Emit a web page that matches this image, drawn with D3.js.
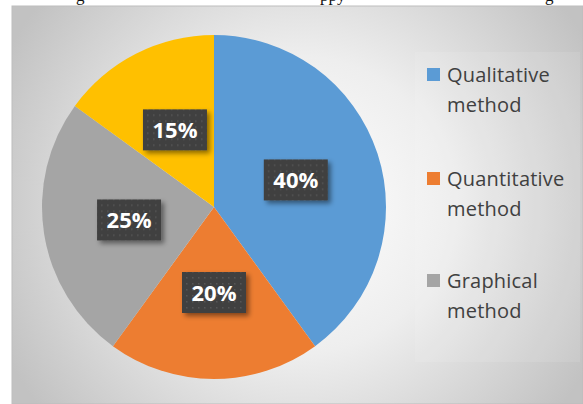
<!DOCTYPE html>
<html><head><meta charset="utf-8">
<script src="https://cdn.jsdelivr.net/npm/d3@7"></script>
<style>html,body{margin:0;padding:0;background:#fff;overflow:hidden}</style>
</head><body>
<svg id="c" width="583" height="404"></svg>
<script>
const categories = ["Qualitative method", "Quantitative method", "Graphical method", "Other"];
const legendLines = [["Qualitative", "method"], ["Quantitative", "method"], ["Graphical", "method"]];
const values = [40, 20, 25, 15];
const labels = ["40%", "20%", "25%", "15%"];
const colors = ["#5B9BD5", "#ED7D31", "#A5A5A5", "#FFC000"];
const headerFragments = [{t: "g", x: 76}, {t: "ppy", x: 320}, {t: "g", x: 545}];

const svg = d3.select("#c");
const defs = svg.append("defs");

const rg = defs.append("radialGradient").attr("id", "bg")
  .attr("gradientUnits", "userSpaceOnUse").attr("cx", 300).attr("cy", 205).attr("r", 330);
rg.append("stop").attr("offset", "0%").attr("stop-color", "#ffffff");
rg.append("stop").attr("offset", "45%").attr("stop-color", "#eeeeee");
rg.append("stop").attr("offset", "100%").attr("stop-color", "#c2c2c2");

const pat = defs.append("pattern").attr("id", "dots").attr("patternUnits", "userSpaceOnUse")
  .attr("width", 6).attr("height", 6);
pat.append("rect").attr("width", 6).attr("height", 6).attr("fill", "#404040");
pat.append("rect").attr("x", 2).attr("y", 2).attr("width", 1.5).attr("height", 1.5).attr("fill", "#575757");

const sh = defs.append("filter").attr("id", "sh").attr("x", "-30%").attr("y", "-30%").attr("width", "170%").attr("height", "170%");
sh.append("feDropShadow").attr("dx", 3).attr("dy", 3).attr("stdDeviation", 2.5).attr("flood-color", "#000").attr("flood-opacity", 0.45);

// descenders of the cut-off text line above the chart
svg.selectAll("text.hdr").data(headerFragments).enter().append("text")
  .attr("class", "hdr").attr("x", d => d.x).attr("y", 1)
  .attr("font-family", "Liberation Serif").attr("font-size", 17).attr("fill", "#111")
  .text(d => d.t);

// chart area
svg.append("rect").attr("x", 12).attr("y", 6).attr("width", 571).attr("height", 398)
  .attr("fill", "url(#bg)").attr("stroke", "#bdbdbd").attr("stroke-width", 1);

// legend panel
svg.append("rect").attr("x", 415).attr("y", 52).attr("width", 165).attr("height", 310)
  .attr("fill", "#ffffff").attr("opacity", 0.1);

const cx = 214, cy = 207, R = 172;
const pie = d3.pie().sort(null).value(d => d)(values);
const arc = d3.arc().innerRadius(0).outerRadius(R);
const labelArc = d3.arc().innerRadius(R * 0.5).outerRadius(R * 0.5);

const g = svg.append("g").attr("transform", `translate(${cx},${cy})`);
g.selectAll("path").data(pie).enter().append("path")
  .attr("d", arc).attr("fill", (d, i) => colors[i]);

const lg = g.selectAll("g.lab").data(pie).enter().append("g").attr("class", "lab")
  .attr("transform", d => { const c = labelArc.centroid(d); return `translate(${c[0]},${c[1]})`; });
lg.append("rect").attr("x", -32).attr("y", -21).attr("width", 64).attr("height", 41)
  .attr("fill", "url(#dots)").attr("filter", "url(#sh)");
lg.append("text").attr("text-anchor", "middle").attr("y", 8)
  .attr("font-family", "Open Sans").attr("font-weight", "bold").attr("font-size", 22)
  .attr("fill", "#fff").text((d, i) => labels[i]);

// legend
const legY = [68, 172, 274];
const leg = svg.selectAll("g.leg").data(legendLines).enter().append("g").attr("class", "leg")
  .attr("transform", (d, i) => `translate(427,${legY[i]})`);
leg.append("rect").attr("width", 13).attr("height", 13).attr("fill", (d, i) => colors[i]);
leg.each(function(d) {
  const t = d3.select(this);
  d.forEach((line, j) => {
    t.append("text").attr("x", 20).attr("y", 14 + j * 30)
      .attr("font-family", "Open Sans").attr("font-size", 20).attr("fill", "#404040")
      .attr("letter-spacing", 0.2).text(line);
  });
});
</script>
</body></html>
